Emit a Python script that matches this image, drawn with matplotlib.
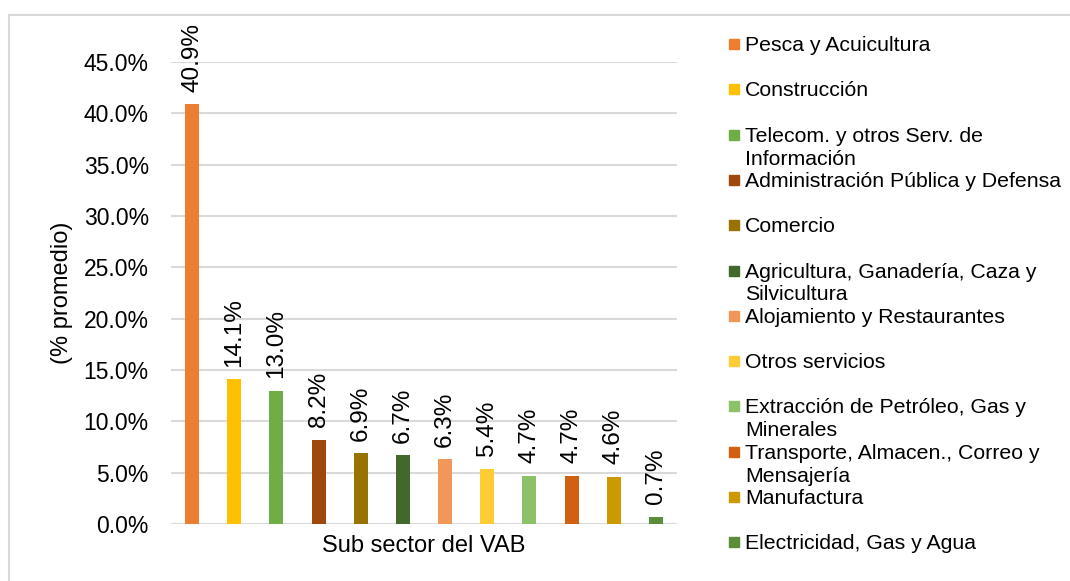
import matplotlib.pyplot as plt
from matplotlib.patches import Rectangle
from matplotlib.ticker import PercentFormatter

plt.rcParams['font.family'] = ['Liberation Sans', 'DejaVu Sans']

# datos: participación promedio por sub sector del VAB
sectores = [
    "Pesca y Acuicultura",
    "Construcción",
    "Telecom. y otros Serv. de\nInformación",
    "Administración Pública y Defensa",
    "Comercio",
    "Agricultura, Ganadería, Caza y\nSilvicultura",
    "Alojamiento y Restaurantes",
    "Otros servicios",
    "Extracción de Petróleo, Gas y\nMinerales",
    "Transporte, Almacen., Correo y\nMensajería",
    "Manufactura",
    "Electricidad, Gas y Agua",
]
valores = [40.9, 14.1, 13.0, 8.2, 6.9, 6.7, 6.3, 5.4, 4.7, 4.7, 4.6, 0.7]
colores = ["#ED7D31", "#FFC000", "#70AD47", "#9E480E", "#997300", "#43682B",
           "#F1975A", "#FFCD33", "#8CC168", "#D26012", "#CC9A00", "#5B8C3A"]

W, H = 1070, 581
fig = plt.figure(figsize=(W / 100, H / 100), dpi=100)

# borde del gráfico
fig.patches.append(Rectangle((9 / W, -0.1), 1.2, 1 - 15 / H + 0.1,
                             transform=fig.transFigure, fill=False,
                             edgecolor="#d9d9d9", linewidth=1.5))

ax = fig.add_axes([171 / W, 1 - 524 / H, (677 - 171) / W, (524 - 62) / H])
x = list(range(len(valores)))
ax.bar(x, valores, width=0.33, color=colores, zorder=3)
ax.set_xlim(-0.5, len(valores) - 0.5)
ax.set_ylim(0, 45)
ax.set_yticks([i * 5 for i in range(10)])
ax.yaxis.set_major_formatter(PercentFormatter(decimals=1))
ax.set_xticks([])
ax.tick_params(axis="y", length=0, pad=16, labelsize=16.5)
ax.grid(axis="y", color="#d9d9d9", linewidth=1.5, zorder=0)
for s in ax.spines.values():
    s.set_visible(False)

for xi, v in zip(x, valores):
    ax.annotate(f"{v:.1f}%", (xi, v), xytext=(0, 9), textcoords="offset points",
                ha="center", va="bottom", rotation=90, fontsize=17.5,
                annotation_clip=False)

fig.text(424 / W, 1 - 546 / H, "Sub sector del VAB", ha="center", va="center",
         fontsize=17)
fig.text(62 / W, 1 - 293 / H, "(% promedio)", ha="center", va="center",
         rotation=90, fontsize=17)

# leyenda manual, espaciado uniforme
for i, (nom, c) in enumerate(zip(sectores, colores)):
    yc = 44 + i * 45.3
    fig.patches.append(Rectangle((729 / W, 1 - (yc + 5) / H), 10 / W, 10 / H,
                                 transform=fig.transFigure, color=c))
    for k, linea in enumerate(nom.split("\n")):
        fig.text(745 / W, 1 - (yc + 7 + k * 23) / H, linea, ha="left",
                 va="baseline", fontsize=15.3)

fig.savefig("out.png", dpi=100)
